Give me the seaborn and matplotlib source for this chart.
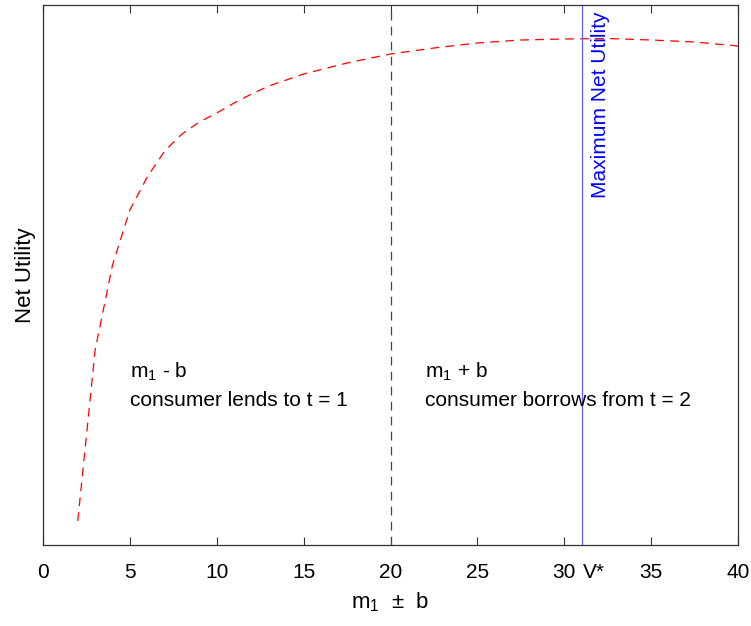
import matplotlib
matplotlib.use('Agg')
import matplotlib.pyplot as plt
import seaborn as sns
import pandas as pd

# values (utility in arbitrary units, no y ticks shown)
m1_b = [2, 3, 4, 5, 6, 7, 8, 9, 10, 11, 12, 13, 14, 15, 17.5, 20,
        22.5, 25, 27.5, 30, 32.5, 35, 37.5, 40]
net_utility = [0.24, 1.95, 2.80, 3.35, 3.68, 3.94, 4.11, 4.23, 4.32, 4.42,
               4.51, 4.59, 4.65, 4.71, 4.82, 4.91, 4.97, 5.02, 5.05, 5.06,
               5.065, 5.05, 5.03, 4.99]
x_ticks = [0, 5, 10, 15, 20, 25, 30, 35, 40]
split_point = 20
v_star = 31

sns.set_theme(style='white')
plt.rcParams['font.family'] = ['Liberation Sans', 'DejaVu Sans']
plt.rcParams['mathtext.fontset'] = 'custom'
plt.rcParams['mathtext.rm'] = 'Liberation Sans'
plt.rcParams['text.color'] = 'black'
plt.rcParams['axes.labelcolor'] = 'black'

fig = plt.figure(figsize=(7.51, 6.26), dpi=100)
ax = fig.add_axes([43 / 751, 81 / 626, 695 / 751, 540 / 626])

df = pd.DataFrame({'m1_b': m1_b, 'utility': net_utility})
sns.lineplot(data=df, x='m1_b', y='utility', ax=ax, color='red',
             linewidth=0.9, dashes=False, linestyle=(0, (7, 5)))

ax.axvline(split_point, color='#444444', linewidth=0.9, linestyle=(0, (7, 5)))
ax.axvline(v_star, color='#6060ff', linewidth=0.9)

ax.set_xlim(0, 40)
ax.set_ylim(0, 5.40)
ax.set_xticks(x_ticks)
ax.set_yticks([])
ax.tick_params(axis='x', direction='in', length=6, width=0.8, color='#333333',
               top=True, bottom=True, labelsize=15, pad=13, labelcolor='black')
for s in ax.spines.values():
    s.set_color('#333333')
    s.set_linewidth(0.9)

ax.set_xlabel(r'$\mathregular{m_1}$  $\pm$  b', fontsize=16, labelpad=6)
ax.set_ylabel('Net Utility', fontsize=16, labelpad=5)

ax.text(5, 1.73, r'$\mathregular{m_1}$ - b', fontsize=15, va='center', ha='left')
ax.text(5, 1.45, 'consumer lends to t = 1', fontsize=15, va='center', ha='left')
ax.text(22, 1.73, r'$\mathregular{m_1}$ + b', fontsize=15, va='center', ha='left')
ax.text(22, 1.45, 'consumer borrows from t = 2', fontsize=15, va='center', ha='left')
ax.text(31.55, 5.33, 'Maximum Net Utility', fontsize=15, color='blue',
        rotation=90, ha='left', va='top')
ax.text(31.1, -0.185, 'V*', fontsize=15, ha='left', va='top')

fig.savefig('out.png', dpi=100)
